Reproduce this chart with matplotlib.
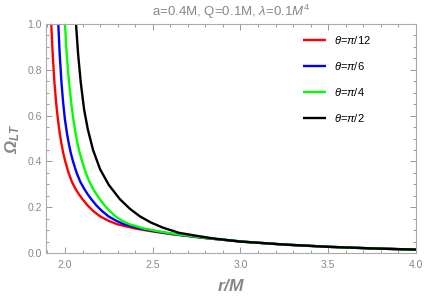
import matplotlib
matplotlib.use("Agg")
import matplotlib.pyplot as plt
from matplotlib.ticker import MultipleLocator, FormatStrFormatter

plt.rcParams['mathtext.fontset'] = 'custom'
plt.rcParams['mathtext.rm'] = 'Liberation Sans'
plt.rcParams['mathtext.it'] = 'Liberation Sans:italic'
plt.rcParams['mathtext.bf'] = 'Liberation Sans:bold:italic'
plt.rcParams['font.family'] = ['Liberation Sans', 'DejaVu Sans']

# Data
r_red = [1.915, 1.922, 1.93, 1.94, 1.95, 1.96, 1.97, 1.98, 1.99, 2.0, 2.02, 2.04, 2.06, 2.08, 2.1,
         2.13, 2.16, 2.2, 2.25, 2.3, 2.4, 2.5, 2.6, 2.7, 2.8, 3.0, 3.25, 3.5, 3.75, 4.0]
w_red = [1.152, 1.0, 0.869, 0.746, 0.654, 0.582, 0.525, 0.477, 0.438, 0.405, 0.351, 0.310, 0.280, 0.256, 0.235,
         0.207, 0.184, 0.160, 0.140, 0.125, 0.107, 0.094, 0.083, 0.074, 0.065, 0.050, 0.0365, 0.027, 0.020, 0.0145]

r_blue = [1.955, 1.962, 1.97, 1.98, 1.99, 2.0, 2.011, 2.022, 2.033, 2.044, 2.066, 2.088, 2.11, 2.13, 2.15,
          2.18, 2.21, 2.248, 2.294, 2.338, 2.428, 2.52, 2.613, 2.709, 2.806, 3.005, 3.255, 3.505, 3.755, 4.005]
w_blue = [1.152, 1.0, 0.869, 0.746, 0.654, 0.582, 0.525, 0.477, 0.438, 0.405, 0.351, 0.310, 0.280, 0.256, 0.235,
          0.207, 0.184, 0.160, 0.140, 0.125, 0.107, 0.094, 0.083, 0.074, 0.065, 0.050, 0.0365, 0.027, 0.020, 0.0145]

r_green = [1.993, 2.0, 2.01, 2.023, 2.036, 2.048, 2.06, 2.072, 2.084, 2.096, 2.118, 2.14, 2.16, 2.18, 2.199,
           2.227, 2.254, 2.288, 2.328, 2.37, 2.45, 2.538, 2.628, 2.72, 2.815, 3.01, 3.258, 3.506, 3.755, 4.005]
w_green = [1.152, 1.0, 0.869, 0.746, 0.654, 0.582, 0.525, 0.477, 0.438, 0.405, 0.351, 0.310, 0.280, 0.256, 0.235,
           0.207, 0.184, 0.160, 0.140, 0.125, 0.107, 0.094, 0.083, 0.074, 0.065, 0.050, 0.0365, 0.027, 0.020, 0.0145]

r_black = [2.056, 2.063, 2.075, 2.09, 2.109, 2.13, 2.16, 2.2, 2.25, 2.313, 2.37, 2.427, 2.49, 2.557,
           2.65, 2.75, 2.85, 3.0, 3.25, 3.5, 3.75, 4.0]
w_black = [1.10, 1.0, 0.868, 0.745, 0.627, 0.541, 0.45, 0.366, 0.297, 0.235, 0.193, 0.160, 0.133, 0.111,
           0.088, 0.075, 0.063, 0.050, 0.037, 0.027, 0.020, 0.015]

labels = [r'$\theta$=$\pi$/12', r'$\theta$=$\pi$/6', r'$\theta$=$\pi$/4', r'$\theta$=$\pi$/2']
colors = ['#ff0000', '#0000ff', '#00ff00', '#000000']
series = [(r_red, w_red), (r_blue, w_blue), (r_green, w_green), (r_black, w_black)]

gray = '#888888'
fig = plt.figure(figsize=(4.25, 2.96), dpi=100)
ax = fig.add_axes([46/425, 43/296, 370/425, 229/296])

for (r, w), c, lab in zip(series, colors, labels):
    ax.plot(r, w, color=c, lw=1.7, label=lab, solid_capstyle='butt')

ax.set_xlim(1.892, 4.0)
ax.set_ylim(0, 1.0)
ax.xaxis.set_major_locator(MultipleLocator(0.5))
ax.xaxis.set_minor_locator(MultipleLocator(0.1))
ax.yaxis.set_major_locator(MultipleLocator(0.2))
ax.yaxis.set_minor_locator(MultipleLocator(0.05))
ax.xaxis.set_major_formatter(FormatStrFormatter('%.1f'))
ax.yaxis.set_major_formatter(FormatStrFormatter('%.1f'))
ax.tick_params(which='both', direction='in', top=True, right=True, color='#999999',
               labelcolor=gray, labelsize=7.5, width=0.7)
ax.tick_params(which='major', length=4)
ax.tick_params(which='minor', length=2)
ax.tick_params(axis='x', pad=5)
ax.tick_params(axis='y', pad=3)
for s in ax.spines.values():
    s.set_color('#aaaaaa')
    s.set_linewidth(0.8)

ax.set_title(r'a=0.4M, Q=0.1M, $\lambda$=0.1$M^4$', color=gray, fontsize=9.5, pad=6)
ax.set_xlabel(r'$\mathbf{r/M}$', color=gray, fontsize=12.5, labelpad=6)
ax.set_ylabel(r'$\mathbf{\Omega_{LT}}$', color=gray, fontsize=12, labelpad=4)

leg = ax.legend(loc='upper left', frameon=False, fontsize=8, handlelength=2.07,
                labelspacing=1.27, handletextpad=0.72, borderpad=0, borderaxespad=0,
                bbox_to_anchor=(0.695, 0.958))

fig.savefig('out.png', dpi=100)
